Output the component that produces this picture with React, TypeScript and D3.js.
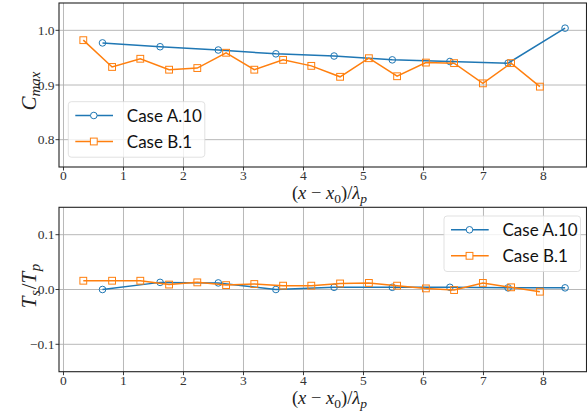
import React, { useRef, useEffect } from 'react';
import * as d3 from 'd3';

// Case A.10 (blue circles)
const xA = [0.65, 1.61, 2.58, 3.54, 4.51, 5.48, 6.44, 7.41, 8.36];
const cmaxA = [0.977, 0.970, 0.964, 0.957, 0.953, 0.946, 0.943, 0.940, 1.004];
const tsA = [0.0, 0.013, 0.012, 0.0, 0.004, 0.004, 0.004, 0.003, 0.003];

// Case B.1 (orange squares)
const xB = [0.33, 0.81, 1.28, 1.76, 2.23, 2.71, 3.18, 3.66, 4.13, 4.61, 5.09, 5.56, 6.04, 6.51, 6.99, 7.46, 7.94];
const cmaxB = [0.982, 0.933, 0.948, 0.928, 0.931, 0.959, 0.928, 0.946, 0.935, 0.915, 0.949, 0.916, 0.941, 0.940, 0.903, 0.940, 0.897];
const tsB = [0.016, 0.016, 0.016, 0.009, 0.013, 0.008, 0.010, 0.007, 0.007, 0.011, 0.012, 0.007, 0.002, -0.001, 0.012, 0.004, -0.004];

const xTicks = [0, 1, 2, 3, 4, 5, 6, 7, 8];
const topTicks = [0.8, 0.9, 1.0];
const bottomTicks = [-0.1, 0.0, 0.1];
const seriesNames = ["Case A.10", "Case B.1"];

const blue = "#1f77b4";
const orange = "#ff7f0e";
const serif = "'Liberation Serif', 'DejaVu Serif', serif";
const sans = "Lato, 'Liberation Sans', sans-serif";

export default function App() {
  const ref = useRef<SVGSVGElement>(null);

  useEffect(() => {
    const svg = d3.select(ref.current);
    svg.selectAll("*").remove();

    const left = 59, right = 586.5;
    const x = d3.scaleLinear().domain([-0.075, 8.717]).range([left, right]);

    function panel(top: number, bottom: number, domain: [number, number], ticks: number[],
      yA: number[], yB: number[], fmt: (v: number) => string) {
      const y = d3.scaleLinear().domain(domain).range([bottom, top]);
      const g = svg.append("g");

      // grid
      g.selectAll(".gx").data(xTicks).enter().append("line")
        .attr("x1", d => x(d)).attr("x2", d => x(d))
        .attr("y1", top).attr("y2", bottom)
        .attr("stroke", "#b0b0b0").attr("stroke-width", 0.9);
      g.selectAll(".gy").data(ticks).enter().append("line")
        .attr("x1", left).attr("x2", right)
        .attr("y1", d => y(d)).attr("y2", d => y(d))
        .attr("stroke", "#b0b0b0").attr("stroke-width", 0.9);

      // ticks
      g.selectAll(".tx").data(xTicks).enter().append("line")
        .attr("x1", d => x(d)).attr("x2", d => x(d))
        .attr("y1", bottom).attr("y2", bottom + 3.5)
        .attr("stroke", "#222").attr("stroke-width", 0.9);
      g.selectAll(".lx").data(xTicks).enter().append("text")
        .attr("x", d => x(d)).attr("y", bottom + 13)
        .attr("text-anchor", "middle")
        .attr("font-family", serif).attr("font-size", 13.5).attr("fill", "#333")
        .text(d => d);
      g.selectAll(".ty").data(ticks).enter().append("line")
        .attr("x1", left - 3.5).attr("x2", left)
        .attr("y1", d => y(d)).attr("y2", d => y(d))
        .attr("stroke", "#222").attr("stroke-width", 0.9);
      g.selectAll(".ly").data(ticks).enter().append("text")
        .attr("x", left - 4.5).attr("y", d => y(d)).attr("dy", "0.34em")
        .attr("text-anchor", "end")
        .attr("font-family", serif).attr("font-size", 13.5).attr("fill", "#333")
        .text(d => fmt(d));

      // lines
      const line = d3.line<[number, number]>().x(d => x(d[0])).y(d => y(d[1]));
      const dA = xA.map((v, i) => [v, yA[i]] as [number, number]);
      const dB = xB.map((v, i) => [v, yB[i]] as [number, number]);
      g.append("path").attr("d", line(dA)).attr("fill", "none")
        .attr("stroke", blue).attr("stroke-width", 1.5);
      g.selectAll(".ma").data(dA).enter().append("circle")
        .attr("cx", d => x(d[0])).attr("cy", d => y(d[1])).attr("r", 3.3)
        .attr("fill", "none").attr("stroke", blue).attr("stroke-width", 1);
      g.append("path").attr("d", line(dB)).attr("fill", "none")
        .attr("stroke", orange).attr("stroke-width", 1.5);
      g.selectAll(".mb").data(dB).enter().append("rect")
        .attr("x", d => x(d[0]) - 3.4).attr("y", d => y(d[1]) - 3.4)
        .attr("width", 6.8).attr("height", 6.8)
        .attr("fill", "none").attr("stroke", orange).attr("stroke-width", 1);

      // frame
      g.append("rect").attr("x", left).attr("y", top)
        .attr("width", right - left).attr("height", bottom - top)
        .attr("fill", "none").attr("stroke", "#222").attr("stroke-width", 1.1);

      // x label
      const xl = g.append("text").attr("x", 329.5).attr("y", bottom + 32)
        .attr("text-anchor", "middle").attr("font-family", serif).attr("font-size", 18.5).attr("fill", "#222");
      xl.append("tspan").text("(");
      xl.append("tspan").attr("font-style", "italic").text("x");
      xl.append("tspan").text(" − ");
      xl.append("tspan").attr("font-style", "italic").text("x");
      xl.append("tspan").attr("font-size", 13.5).attr("dy", 4).text("0");
      xl.append("tspan").attr("dy", -4).text(")/");
      xl.append("tspan").attr("font-style", "italic").text("λ");
      xl.append("tspan").attr("font-size", 13.5).attr("font-style", "italic").attr("dy", 4).text("p");
      return { g, y };
    }

    function legend(bx: number, by: number) {
      const lg = svg.append("g").attr("transform", `translate(${bx},${by})`);
      lg.append("rect").attr("width", 136.5).attr("height", 55.5).attr("rx", 3)
        .attr("fill", "white").attr("fill-opacity", 0.8)
        .attr("stroke", "#d9d9d9").attr("stroke-width", 0.8);
      [blue, orange].forEach((c, i) => {
        const ry = 13.8 + i * 26;
        lg.append("line").attr("x1", 7).attr("x2", 44.7).attr("y1", ry).attr("y2", ry)
          .attr("stroke", c).attr("stroke-width", 1.5);
        if (i === 0) {
          lg.append("circle").attr("cx", 25.5).attr("cy", ry).attr("r", 3.3)
            .attr("fill", "white").attr("stroke", c).attr("stroke-width", 1);
        } else {
          lg.append("rect").attr("x", 25.5 - 3.4).attr("y", ry - 3.4).attr("width", 6.8).attr("height", 6.8)
            .attr("fill", "white").attr("stroke", c).attr("stroke-width", 1);
        }
        lg.append("text").attr("x", 58.5).attr("y", ry).attr("dy", "0.36em")
          .attr("font-family", sans).attr("font-size", 17).attr("fill", "#111")
          .text(seriesNames[i]);
      });
    }

    panel(3, 167, [0.75, 1.05], topTicks, cmaxA, cmaxB, d3.format(".1f"));
    panel(207.3, 371.7, [-0.15, 0.15], bottomTicks, tsA, tsB, v => v < 0 ? "−" + Math.abs(v).toFixed(1) : v.toFixed(1));

    // y labels
    const yl1 = svg.append("text").attr("transform", "translate(36,91) rotate(-90)")
      .attr("text-anchor", "middle").attr("font-family", serif).attr("font-size", 21).attr("fill", "#222");
    yl1.append("tspan").attr("font-style", "italic").text("C");
    yl1.append("tspan").attr("font-style", "italic").attr("font-size", 15).attr("dy", 4).text("max");

    const yl2 = svg.append("text").attr("transform", "translate(36,286) rotate(-90)")
      .attr("text-anchor", "middle").attr("font-family", serif).attr("font-size", 21).attr("fill", "#222");
    yl2.append("tspan").attr("font-style", "italic").text("T");
    yl2.append("tspan").attr("font-style", "italic").attr("font-size", 15).attr("dy", 4).attr("dx", 0.5).text("s");
    yl2.append("tspan").attr("dy", -4).attr("dx", 1).text("/");
    yl2.append("tspan").attr("font-style", "italic").text("T");
    yl2.append("tspan").attr("font-style", "italic").attr("font-size", 15).attr("dy", 4).attr("dx", 0.5).text("p");

    legend(68.3, 101.7);
    legend(444, 216);
  }, []);

  return <svg ref={ref} width={587} height={414}
    style={{ position: "absolute", left: 0, top: 0, background: "white" }}></svg>;
}
